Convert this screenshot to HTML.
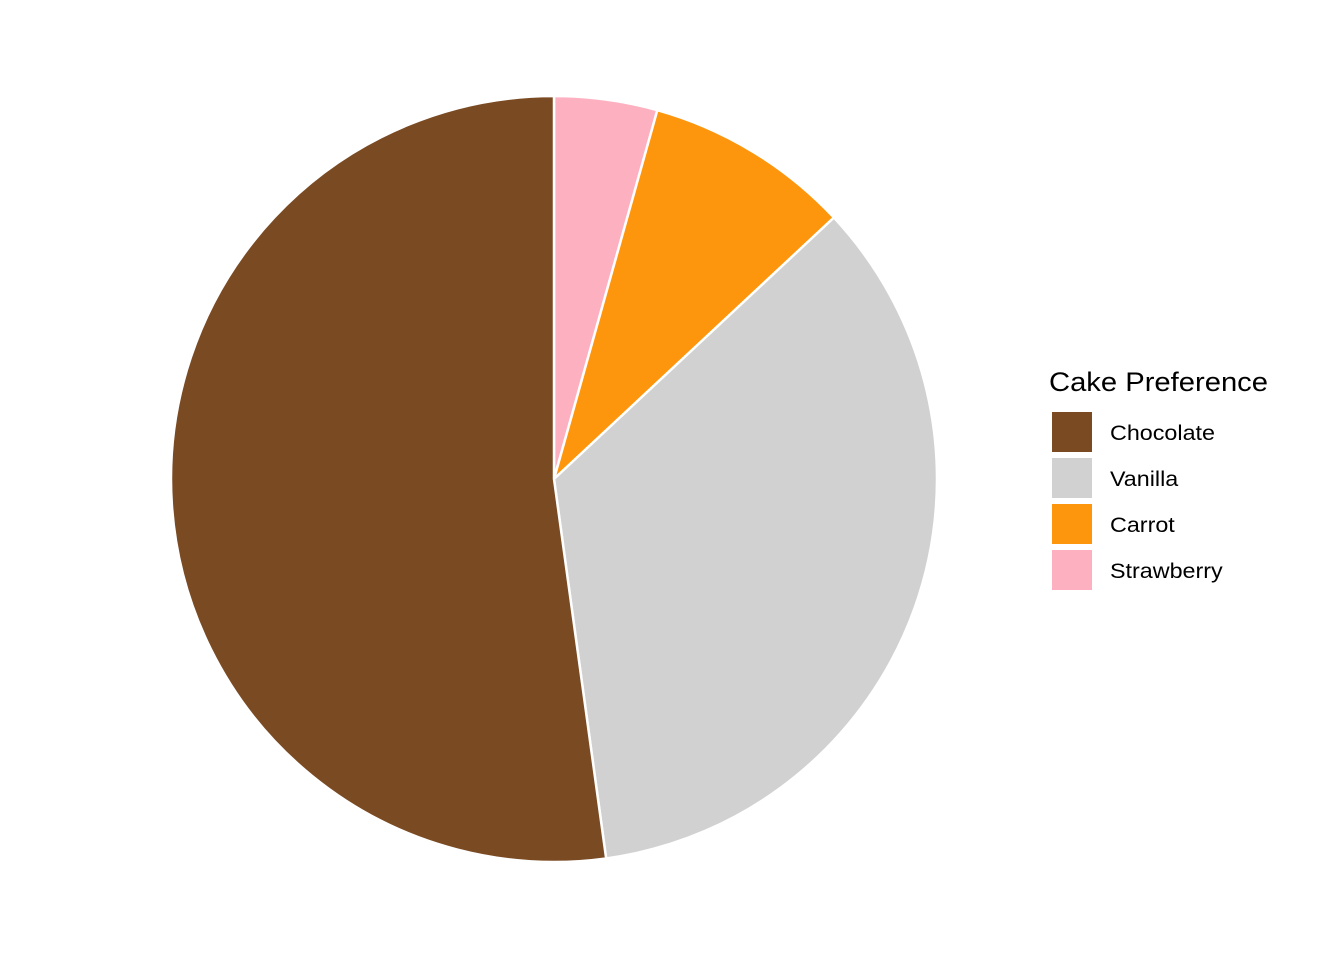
<!DOCTYPE html>
<html>
<head>
<meta charset="utf-8">
<style>
  html, body { margin: 0; padding: 0; background: #ffffff; }
  svg { display: block; }
  text { font-family: "Liberation Sans", Arial, sans-serif; fill: #000; }
</style>
</head>
<body>
<svg id="chart" width="1344" height="960" viewBox="0 0 1344 960">
  <rect width="1344" height="960" fill="#ffffff"></rect>
  <g id="slices"></g>
  <g id="legend">
    <text x="1049" y="391" font-size="27" textLength="219" lengthAdjust="spacingAndGlyphs">Cake Preference</text>
  </g>
</svg>
<script>
const categories = ["Chocolate", "Vanilla", "Carrot", "Strawberry"];
const counts = [24, 16, 4, 2];
const colors = ["#7a4a23", "#d1d1d1", "#fd960c", "#fdb0c0"];
// slices drawn clockwise from 12 o'clock in this order
const drawOrder = ["Strawberry", "Carrot", "Vanilla", "Chocolate"];

const NS = "http://www.w3.org/2000/svg";
const cx = 554, cy = 479, r = 383;
const total = counts.reduce((a, b) => a + b, 0);
const slicesG = document.getElementById("slices");
function pt(frac) {
  const a = frac * 2 * Math.PI;
  return [cx + r * Math.sin(a), cy - r * Math.cos(a)];
}
let cum = 0;
drawOrder.forEach(name => {
  const i = categories.indexOf(name);
  const f0 = cum / total;
  cum += counts[i];
  const f1 = cum / total;
  const [x0, y0] = pt(f0), [x1, y1] = pt(f1);
  const large = (f1 - f0) > 0.5 ? 1 : 0;
  const p = document.createElementNS(NS, "path");
  p.setAttribute("d", `M${cx},${cy} L${x0},${y0} A${r},${r} 0 ${large} 1 ${x1},${y1} Z`);
  p.setAttribute("fill", colors[i]);
  p.setAttribute("stroke", "#ffffff");
  p.setAttribute("stroke-width", "2.5");
  
  
  slicesG.appendChild(p);
});

const legendG = document.getElementById("legend");
categories.forEach((name, i) => {
  const y = 412 + i * 46;
  const rect = document.createElementNS(NS, "rect");
  rect.setAttribute("x", 1052);
  rect.setAttribute("y", y);
  rect.setAttribute("width", 40);
  rect.setAttribute("height", 40);
  rect.setAttribute("fill", colors[i]);
  
  
  legendG.appendChild(rect);
  const t = document.createElementNS(NS, "text");
  t.setAttribute("x", 1110);
  t.setAttribute("y", y + 28);
  t.setAttribute("font-size", "21");
  t.textContent = name;
  
  
  legendG.appendChild(t);
  const w = t.getComputedTextLength();
  t.setAttribute("textLength", (w * 1.11).toFixed(1));
  t.setAttribute("lengthAdjust", "spacingAndGlyphs");
});
</script>
</body>
</html>
